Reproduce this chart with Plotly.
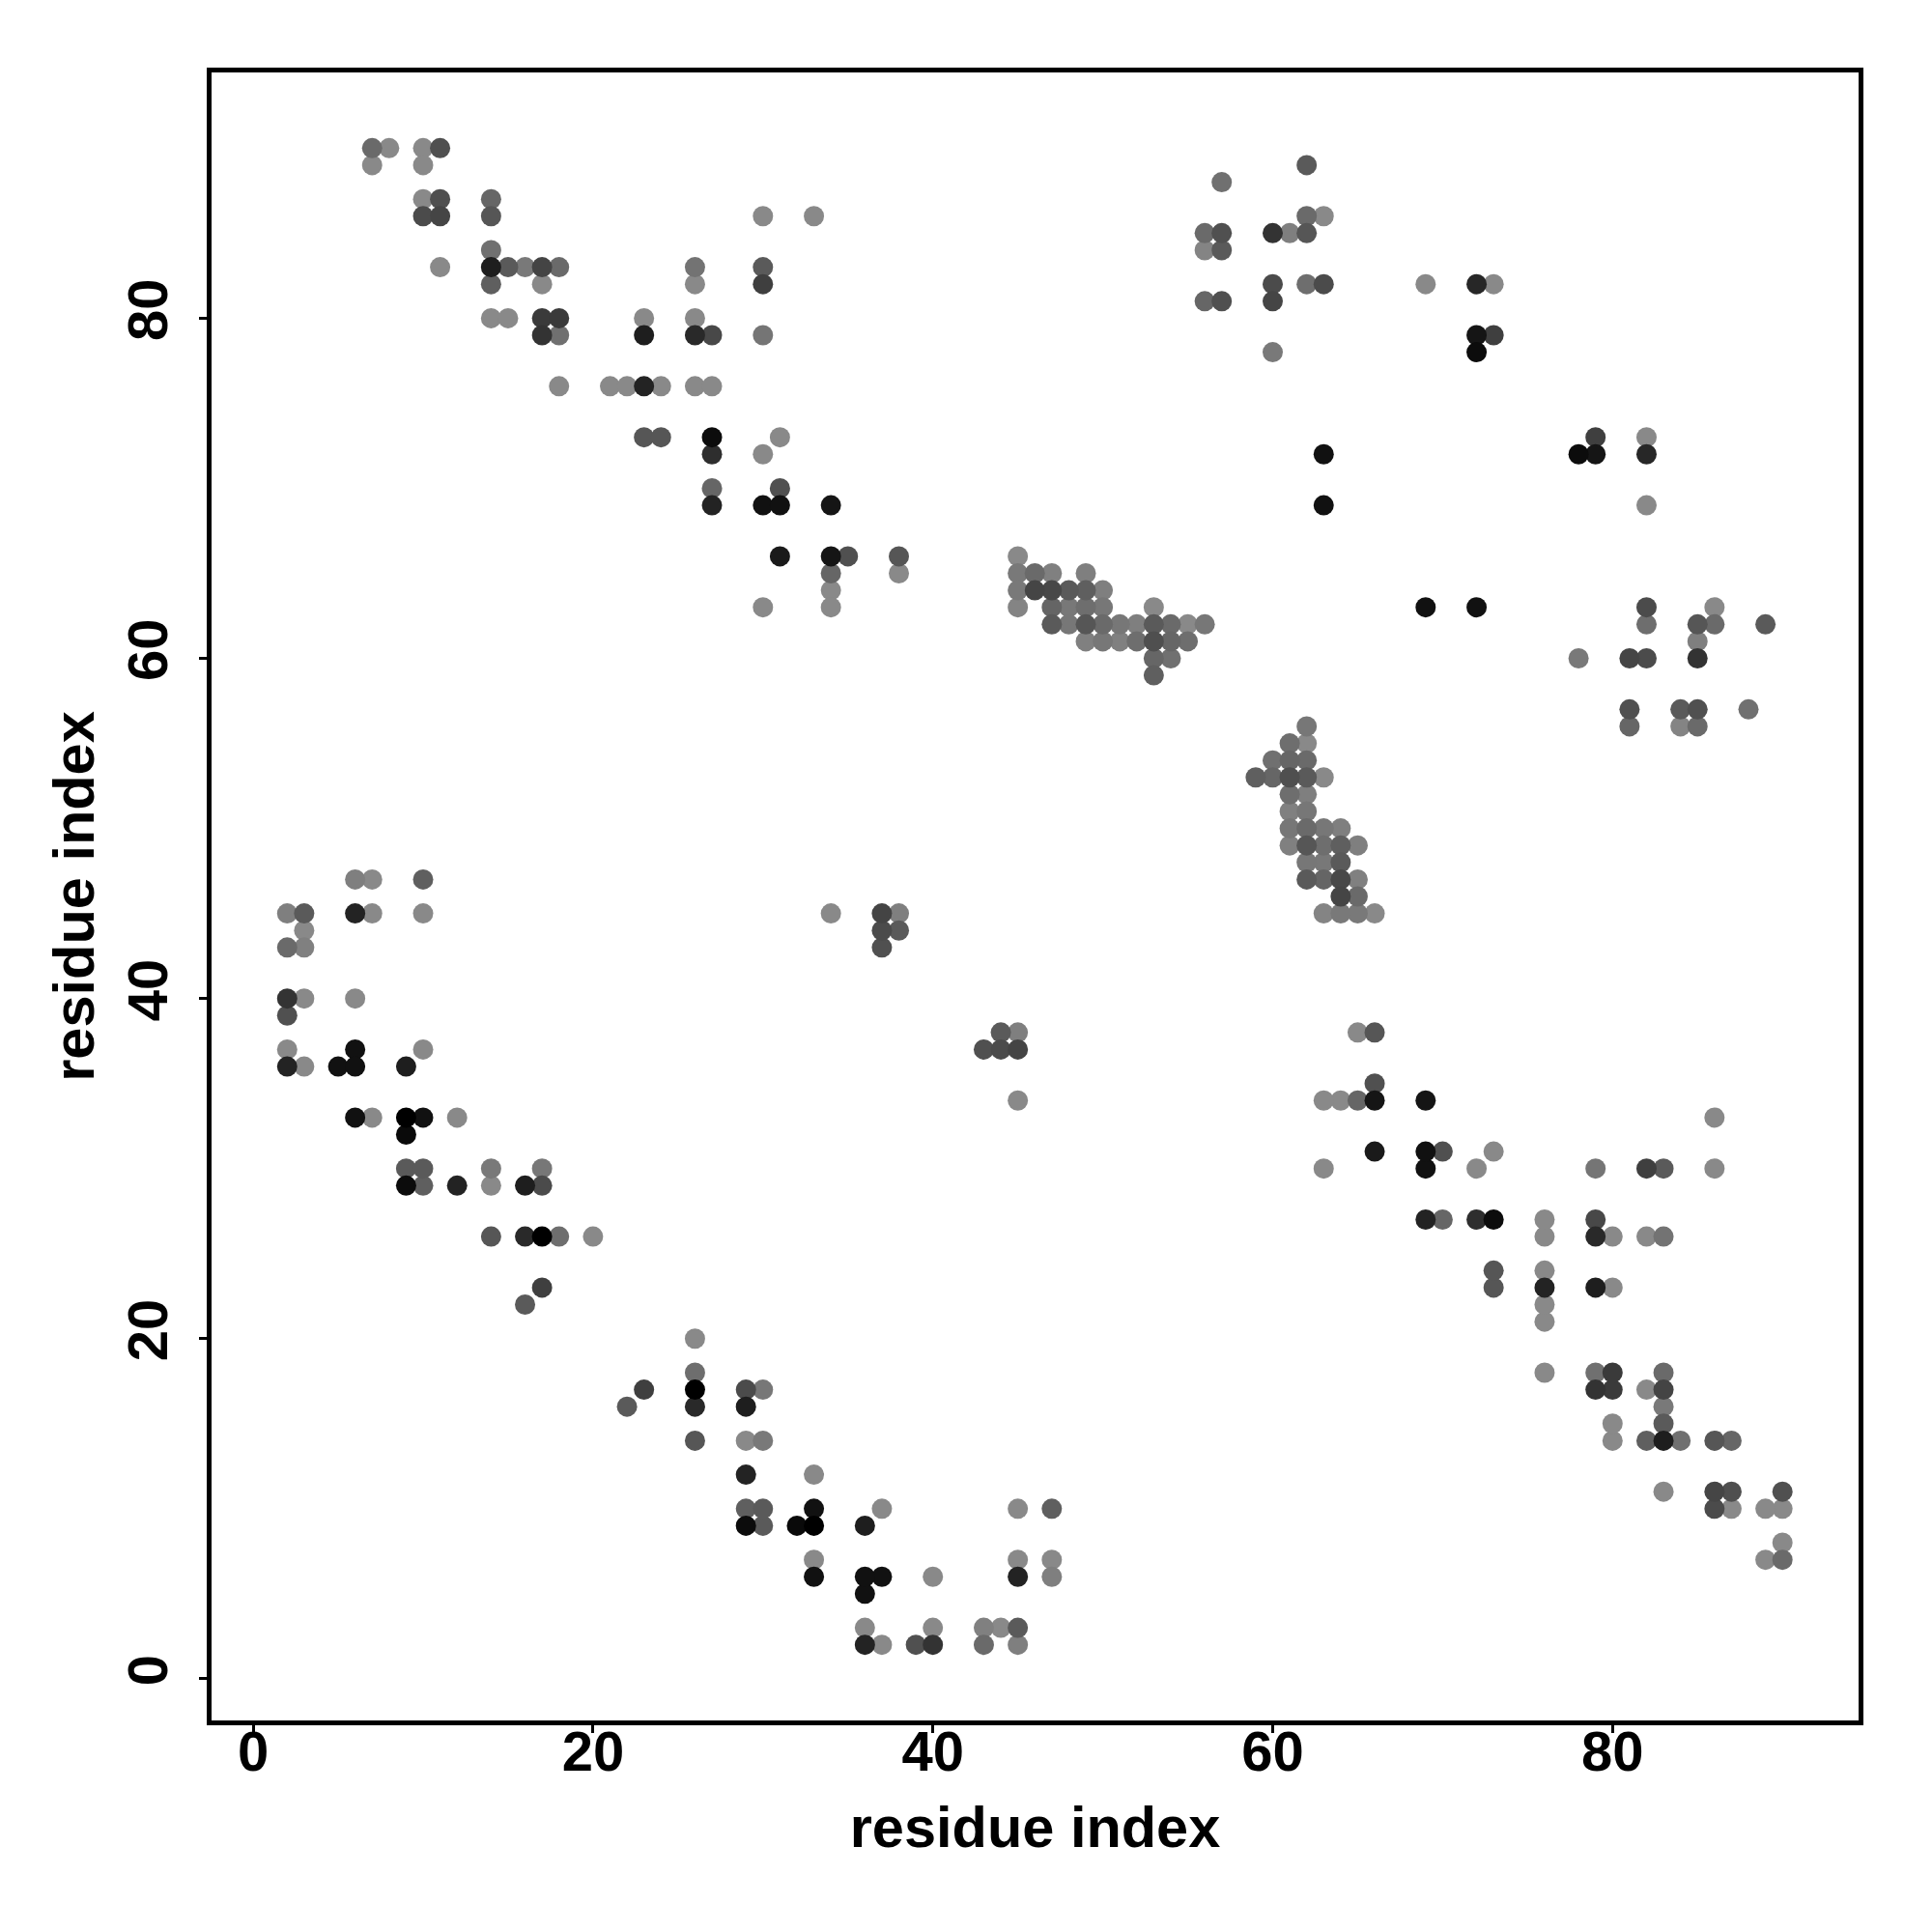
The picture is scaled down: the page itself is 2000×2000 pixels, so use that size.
import plotly.graph_objects as go

# Symmetric residue contact map: each contact (i < j) is listed once and drawn at (i, j) and (j, i).
# Values: shade strength 0 (light gray) .. 1 (black).
res_i = [
    # block near (10-38, 63-90)
    7, 8, 10, 11, 7, 10, 10, 11, 14, 10, 11, 14, 30, 33, 14,
    11, 14, 15, 16, 17, 18, 26, 30, 14, 17, 26, 30,
    14, 15, 17, 18, 23, 26, 17, 18, 23, 26, 27, 30,
    18, 21, 22, 23, 24, 26, 27, 23, 24, 27, 31, 27, 30, 27, 31,
    27, 30, 31, 34, 31, 34, 35, 38, 34, 38, 34, 30, 34,
    # block near (45-56, 59-66)
    45, 45, 46, 47, 49, 45, 46, 47, 48, 49, 50, 45, 47, 48, 49, 50, 53,
    47, 48, 49, 50, 51, 52, 53, 54, 55, 56, 49, 50, 51, 52, 53, 54, 55,
    53, 54, 53,
    # small block near (34-38, 43-45)
    34, 37, 38, 37, 38, 37,
    # block near (56-73, 69-89)
    62, 57, 62, 63, 56, 57, 60, 61, 62, 56, 57, 60, 62, 63, 69, 72, 73,
    56, 57, 60, 72, 73, 60, 72, 63, 63,
    # block near (2-20, 22-47)
    6, 7, 10, 2, 3, 6, 7, 10, 3, 2, 3, 2, 3, 6, 2, 2, 6, 10,
    2, 3, 5, 6, 9, 6, 7, 9, 10, 12, 9, 9, 10, 14, 17,
    9, 10, 12, 14, 16, 17, 14, 16, 17, 18, 20, 17, 16,
]
res_j = [
    90, 90, 90, 90, 89, 89, 87, 87, 87, 86, 86, 86, 86, 86, 84,
    83, 83, 83, 83, 83, 83, 83, 83, 82, 82, 82, 82,
    80, 80, 80, 80, 80, 80, 79, 79, 79, 79, 79, 79,
    76, 76, 76, 76, 76, 76, 76, 73, 73, 73, 73, 72, 72, 70, 70,
    69, 69, 69, 69, 66, 66, 66, 66, 65, 65, 64, 63, 63,
    66, 65, 65, 65, 65, 64, 64, 64, 64, 64, 64, 63, 63, 63, 63, 63, 63,
    62, 62, 62, 62, 62, 62, 62, 62, 62, 62, 61, 61, 61, 61, 61, 61, 61,
    60, 60, 59,
    45, 45, 45, 44, 44, 43,
    89, 88, 86, 86, 85, 85, 85, 85, 85, 84, 84, 82, 82, 82, 82, 82, 82,
    81, 81, 81, 79, 79, 78, 78, 72, 69,
    47, 47, 47, 45, 45, 45, 45, 45, 44, 43, 43, 40, 40, 40, 39, 37, 37, 37,
    36, 36, 36, 36, 36, 33, 33, 33, 33, 33, 32, 30, 30, 30, 30,
    29, 29, 29, 29, 29, 29, 26, 26, 26, 26, 26, 23, 22,
]
strength = [
    0.23, 0.01, 0.01, 0.42, 0.01, 0.01, 0.01, 0.43, 0.26, 0.46, 0.50, 0.38, 0.01, 0.01, 0.19,
    0.01, 0.78, 0.35, 0.12, 0.51, 0.23, 0.17, 0.35, 0.31, 0.01, 0.01, 0.54,
    0.01, 0.01, 0.58, 0.58, 0.01, 0.01, 0.63, 0.19, 0.78, 0.70, 0.48, 0.15,
    0.01, 0.01, 0.01, 0.75, 0.01, 0.01, 0.01, 0.38, 0.38, 0.91, 0.01, 0.67, 0.01, 0.26, 0.42,
    0.75, 0.88, 0.88, 0.85, 0.81, 0.85, 0.42, 0.38, 0.26, 0.01, 0.01, 0.01, 0.01,
    0.01, 0.12, 0.23, 0.07, 0.08, 0.12, 0.50, 0.48, 0.35, 0.31, 0.08, 0.04, 0.27, 0.13, 0.20, 0.14, 0.01,
    0.35, 0.14, 0.38, 0.23, 0.14, 0.08, 0.35, 0.23, 0.01, 0.14, 0.07, 0.14, 0.07, 0.20, 0.43, 0.26, 0.20,
    0.26, 0.19, 0.31,
    0.01, 0.51, 0.08, 0.46, 0.35, 0.42,
    0.35, 0.19, 0.23, 0.01, 0.23, 0.42, 0.63, 0.08, 0.38, 0.04, 0.35, 0.46, 0.20, 0.46, 0.01, 0.72, 0.01,
    0.26, 0.42, 0.50, 0.85, 0.54, 0.12, 0.91, 0.88, 0.88,
    0.08, 0.01, 0.31, 0.08, 0.35, 0.75, 0.01, 0.01, 0.01, 0.23, 0.07, 0.63, 0.01, 0.01, 0.42, 0.01, 0.88, 0.01,
    0.75, 0.01, 0.88, 0.88, 0.78, 0.88, 0.01, 1.00, 0.88, 0.01, 0.93, 0.35, 0.35, 0.12, 0.14,
    0.91, 0.31, 0.75, 0.01, 0.78, 0.46, 0.38, 0.70, 1.00, 0.20, 0.01, 0.54, 0.35,
]

x_ticks = [0, 20, 40, 60, 80]
axis_title = "residue index"

xs = res_i + res_j
ys = res_j + res_i
ss = strength + strength

order = sorted(range(len(xs)), key=lambda k: ss[k])
xs = [xs[k] for k in order]
ys = [ys[k] for k in order]
ss = [ss[k] for k in order]

fig = go.Figure(go.Scatter(
    x=xs, y=ys, mode="markers",
    marker=dict(size=21, color=ss, cmin=0, cmax=1,
                colorscale=[[0, "#8a8a8a"], [1, "#000000"]],
                line=dict(width=0)),
    hoverinfo="skip", showlegend=False,
))

font = dict(family="Liberation Sans, Arial, sans-serif", size=58, color="black", weight="bold")
title_font = dict(font, size=59.5)
axis_common = dict(
    ticks="outside", tickvals=x_ticks, ticklen=8, tickwidth=2.5,
    tickcolor="black", showline=True, mirror=True, linewidth=4.5, linecolor="black",
    showgrid=False, zeroline=False, tickfont=font, automargin=False,
)
fig.update_xaxes(**axis_common, range=[-2.45, 94.48], ticklabelstandoff=-30,
                 title=dict(text=axis_title, font=title_font, standoff=27))
fig.update_yaxes(**axis_common, range=[-2.45, 94.45], tickangle=-90, ticklabelstandoff=10,
                 title=dict(text=axis_title, font=title_font, standoff=5))
fig.update_layout(
    width=2000, height=2000,
    margin=dict(l=210.5, r=83.5, t=66.5, b=227.3),
    paper_bgcolor="white", plot_bgcolor="white",
)
fig.write_html("out.html")
